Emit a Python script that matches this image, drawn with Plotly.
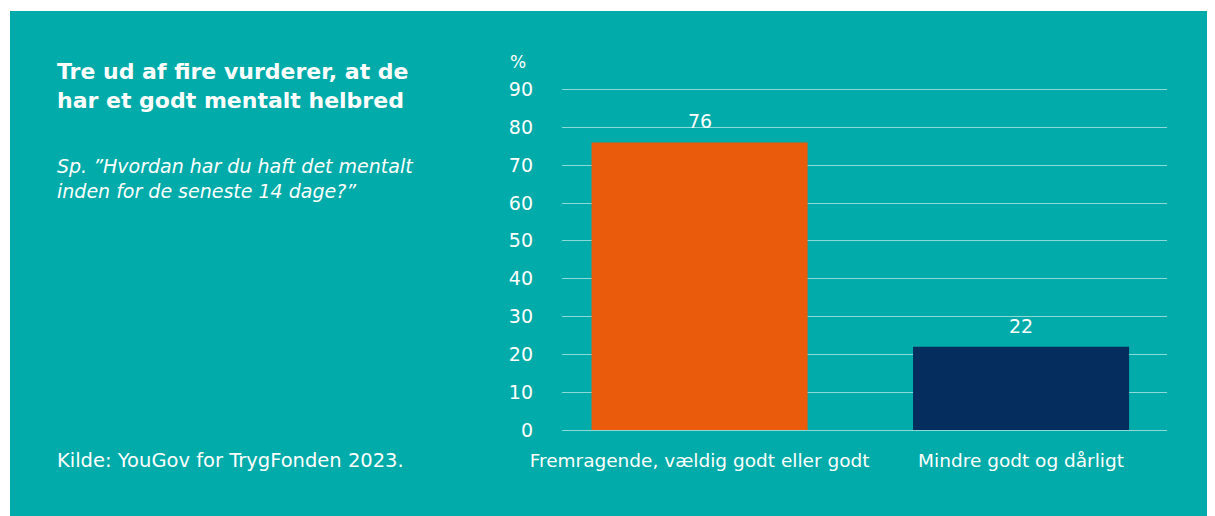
import plotly.graph_objects as go

categories = ["Fremragende, vældig godt eller godt", "Mindre godt og dårligt"]
values = [76, 22]
bar_colors = ["#ea5c0c", "#052d5e"]
y_ticks = [0, 10, 20, 30, 40, 50, 60, 70, 80, 90]

OFF = 8  # page body margin
W, H = 1215 - OFF, 516 - OFF
Y_MAX = 90.4
L = 562 - OFF
T = 430 - OFF - round(340 * Y_MAX / 90)
R = W - (1167 - OFF)
B = H - (430 - OFF)
PW, PH = W - L - R, H - T - B

def px(x):
    return (x - OFF - L) / PW

def py(y):
    return (H - B - (y - OFF)) / PH

TEAL = "#00aba9"
FONT = "DejaVu Sans"

fig = go.Figure(go.Bar(
    x=[0, 1], y=values, marker=dict(color=bar_colors, line=dict(width=0)),
    cliponaxis=False, width=0.672, hoverinfo="skip",
))

fig.update_layout(
    width=W, height=H, margin=dict(l=L, r=R, t=T, b=B),
    paper_bgcolor="white", plot_bgcolor="rgba(0,0,0,0)",
    showlegend=False,
    font=dict(family=FONT, color="white"),
    xaxis=dict(range=[-0.428, 1.454], tickvals=[0, 1], ticktext=categories,
               showgrid=False, zeroline=False, showline=False, ticks="",
               ticklabelstandoff=17,
               tickfont=dict(size=18.5, color="white", family=FONT)),
    yaxis=dict(range=[0, Y_MAX], tickvals=y_ticks, showgrid=True,
               gridcolor="rgba(255,255,255,0.55)", gridwidth=1,
               zeroline=True, zerolinecolor="rgba(255,255,255,0.55)", zerolinewidth=1,
               showline=False, ticks="", ticklabelstandoff=28,
               tickfont=dict(size=19, color="white", family=FONT)),
    shapes=[dict(type="rect", xref="paper", yref="paper", layer="below",
                 x0=px(10), x1=px(1230), y0=py(530), y1=py(11),
                 fillcolor=TEAL, line=dict(width=0))],
)

ann = [
    dict(text="<b>Tre ud af fire vurderer, at de<br>har et godt mentalt helbred</b>",
         x=px(55), y=py(86), xanchor="left", yanchor="middle", align="left",
         font=dict(size=22, color="white", family=FONT)),
    dict(text="<i>Sp. \u201dHvordan har du haft det mentalt<br>inden for de seneste 14 dage?\u201d</i>",
         x=px(55), y=py(178), xanchor="left", yanchor="middle", align="left",
         font=dict(size=19, color="white", family=FONT)),
    dict(text="Kilde: YouGov for TrygFonden 2023.",
         x=px(55), y=py(460), xanchor="left", yanchor="middle", align="left",
         font=dict(size=19.5, color="white", family=FONT)),
    dict(text="%", x=px(518), y=py(62), xanchor="center", yanchor="middle",
         font=dict(size=17, color="white", family=FONT)),
]
for a in ann:
    a.update(xref="paper", yref="paper", showarrow=False)
# value labels above bars, placed through the data axes
for i, v in enumerate(values):
    ann.append(dict(x=i, y=v, xref="x", yref="y", text=str(v), showarrow=False,
                    xanchor="center", yanchor="bottom", yshift=8,
                    font=dict(size=19, color="white", family=FONT)))
fig.update_layout(annotations=ann)

fig.write_html("out.html")
